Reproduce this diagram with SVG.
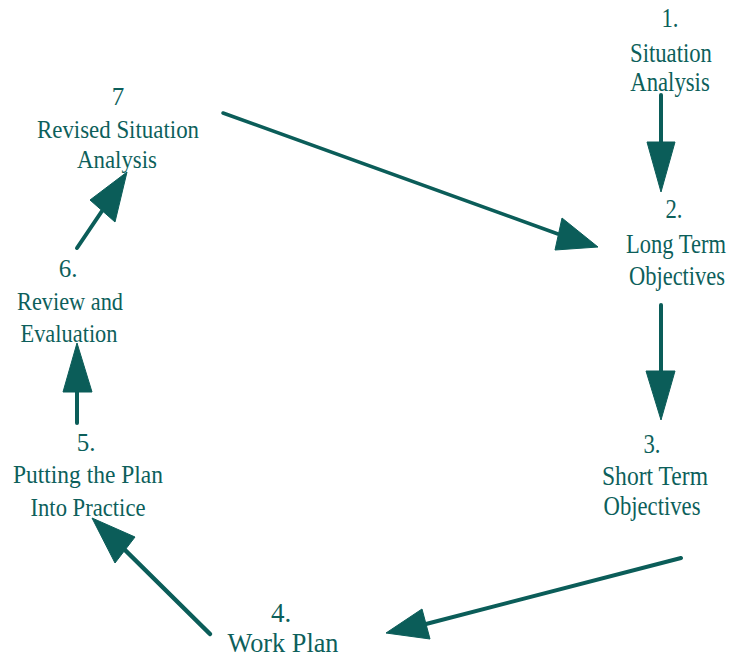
<svg xmlns="http://www.w3.org/2000/svg" width="731" height="658" viewBox="0 0 731 658">
<style>
  .t { font-family: "Liberation Serif", "Times New Roman", serif; fill: #0d5f5b; text-anchor: middle; }
  .r { font-size: 22.7px; }
  .l { font-size: 25px; }
  .w { font-size: 27px; }
  .ln { stroke: #0b5d59; stroke-width: 4; stroke-linecap: round; fill: none; }
  .hd { fill: #0b5d59; stroke: #0b5d59; stroke-width: 1; stroke-linejoin: round; }
</style>
<rect width="731" height="658" fill="#ffffff"/>
<g id="connectors">
  <line class="ln" x1="661" y1="95" x2="661" y2="144"/>
  <polygon class="hd" points="647,142 675,142 661,192"/>
  <line class="ln" x1="661" y1="305" x2="661" y2="373"/>
  <polygon class="hd" points="646,371 675,371 661,420"/>
  <line class="ln" x1="681" y1="558" x2="426" y2="624"/>
  <polygon class="hd" points="422,609 430,639 386,633"/>
  <line class="ln" style="stroke-width:4.5" x1="210" y1="634" x2="125" y2="550"/>
  <polygon class="hd" points="115,563 135,537 92,518"/>
  <line class="ln" x1="77" y1="423" x2="77" y2="390"/>
  <polygon class="hd" points="63,392 92,392 77,343"/>
  <line class="ln" x1="77" y1="248" x2="102" y2="211"/>
  <polygon class="hd" points="90,200 115,222 127,172"/>
  <line class="ln" style="stroke-width:3.5" x1="223" y1="113" x2="558" y2="234"/>
  <polygon class="hd" points="562,218 555,250 598,247"/>
</g>
<g id="node1">
  <text class="t r" transform="translate(670,27) scale(1,1.23)">1.</text>
  <text class="t r" transform="translate(671,62) scale(1,1.23)">Situation</text>
  <text class="t r" transform="translate(670,91) scale(1,1.23)">Analysis</text>
</g>
<g id="node2">
  <text class="t r" transform="translate(674,218) scale(1,1.23)">2.</text>
  <text class="t r" transform="translate(676,253) scale(1,1.23)" textLength="100" lengthAdjust="spacingAndGlyphs">Long Term</text>
  <text class="t r" transform="translate(677,285) scale(1,1.23)" textLength="96" lengthAdjust="spacingAndGlyphs">Objectives</text>
</g>
<g id="node3">
  <text class="t r" transform="translate(652,453) scale(1,1.23)">3.</text>
  <text class="t r" transform="translate(655,485) scale(1,1.23)" textLength="106" lengthAdjust="spacingAndGlyphs">Short Term</text>
  <text class="t r" transform="translate(652,515) scale(1,1.23)" textLength="97" lengthAdjust="spacingAndGlyphs">Objectives</text>
</g>
<g id="node4">
  <text class="t w" x="281" y="622">4.</text>
  <text class="t w" x="283" y="652" textLength="111" lengthAdjust="spacingAndGlyphs">Work Plan</text>
</g>
<g id="node5">
  <text class="t l" x="86" y="451">5.</text>
  <text class="t l" x="88" y="483" textLength="150" lengthAdjust="spacingAndGlyphs">Putting the Plan</text>
  <text class="t l" x="88" y="516" textLength="115" lengthAdjust="spacingAndGlyphs">Into Practice</text>
</g>
<g id="node6">
  <text class="t l" x="68" y="277">6.</text>
  <text class="t l" x="70" y="310" textLength="106" lengthAdjust="spacingAndGlyphs">Review and</text>
  <text class="t l" x="69" y="342" textLength="97" lengthAdjust="spacingAndGlyphs">Evaluation</text>
</g>
<g id="node7">
  <text class="t l" x="118" y="105">7</text>
  <text class="t l" x="118" y="138" textLength="162" lengthAdjust="spacingAndGlyphs">Revised Situation</text>
  <text class="t l" x="117" y="168" textLength="80" lengthAdjust="spacingAndGlyphs">Analysis</text>
</g>
</svg>
